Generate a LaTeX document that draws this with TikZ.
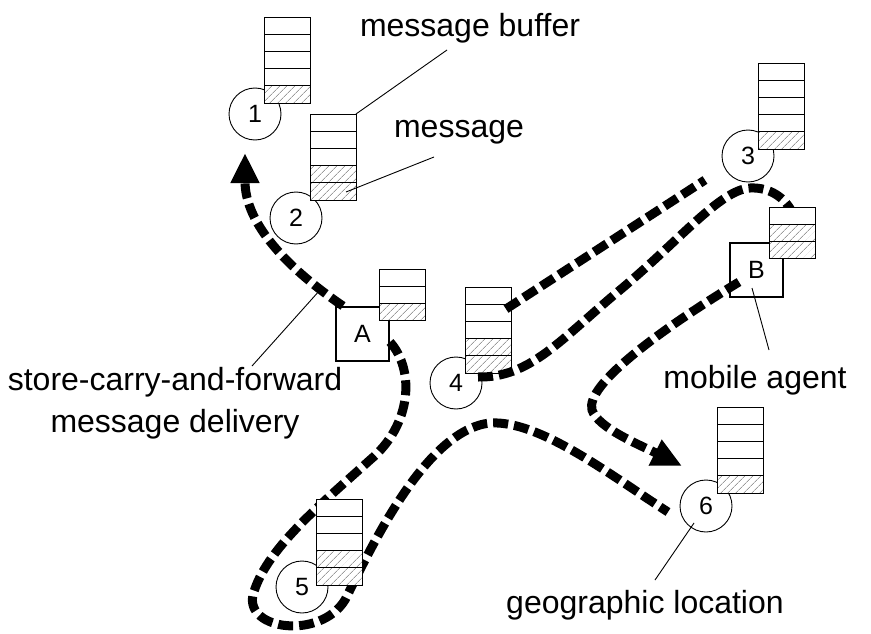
\documentclass[tikz,border=0pt]{standalone}
\usepackage{fontspec}
\setmainfont{Liberation Sans}
\usetikzlibrary{arrows.meta,patterns.meta}

% a message buffer: name, top left corner, cells, hatched cells
\newcommand{\msgbuffer}[4]{%
  \node[buf,minimum height=#3*17.2pt] (#1) at (#2) {};
  \foreach \k in {1,...,#4}
    \fill[hatch] ([yshift=\k*17.2pt-17.2pt]#1.south west) rectangle ([yshift=\k*17.2pt]#1.south east);
  \foreach \k in {2,...,#3}
    \draw[cell] ([yshift=\k*17.2pt-17.2pt]#1.south west) -- ([yshift=\k*17.2pt-17.2pt]#1.south east);
  \draw[cell] (#1.south west) rectangle (#1.north east);
}

\begin{document}
\begin{tikzpicture}[x=1pt,y=-1pt,
    route/.style={line width=9pt,dash pattern=on 15pt off 6pt},
    tip/.style={-{Triangle[length=30pt,width=27pt]}},
    station/.style={circle,draw,fill=white,line width=0.9pt,minimum size=52pt,inner sep=0pt,font=\fontsize{25}{30}\selectfont},
    agent/.style={draw,fill=white,line width=2pt,minimum width=53pt,minimum height=54pt,inner sep=0pt,font=\fontsize{25}{30}\selectfont},
    buf/.style={draw,fill=white,line width=0.9pt,minimum width=46pt,inner sep=0pt,outer sep=0pt,anchor=north west},
    cell/.style={line width=0.9pt},
    hatch/.style={pattern={Lines[angle=45,distance=5.4pt,line width=0.6pt]},pattern color=black!60},
    leader/.style={line width=0.9pt},
    lbl/.style={font=\fontsize{32}{42}\selectfont,anchor=base,inner sep=0pt}]
    \useasboundingbox (0,0) rectangle (871,634);

    % agents
    \node[agent] (boxA) at (362.5,334) {A};
    \node[agent] (boxB) at (756.5,270) {B};

    % free ends
    \coordinate (k1) at (245,153);
    \coordinate (k3a) at (705,180);
    \coordinate (k4) at (682,466);
    \coordinate (k6) at (668,512);

    % routes of the agents
    \draw[route,tip] ([xshift=8pt]boxA.north west) .. controls (290,270) and (245,225) .. (k1);
    \draw[route] ([yshift=-8pt]boxA.east) .. controls (415,370) and (412,425) .. (370,460)
        .. controls (320,505) and (265,550) .. (253,595)
        .. controls (245,630) and (320,640) .. (345,600)
        .. controls (370,550) and (425,430) .. (490,423)
        .. controls (540,420) and (610,475) .. (k6);
    \draw[route,tip] ([xshift=10pt,yshift=-12pt]boxB.west) .. controls (660,330) and (585,385) .. (592,410)
        .. controls (598,428) and (640,445) .. (k4);

    % locations
    \node[station] (s1) at (255,114) {1};
    \node[station] (s2) at (296,218) {2};
    \node[station] (s3) at (748,156) {3};
    \node[station] (s4) at (456,383) {4};
    \node[station] (s5) at (302,587) {5};
    \node[station] (s6) at (706,506) {6};

    \msgbuffer{buf1}{264,17}{5}{1}
    \msgbuffer{buf2}{310,114}{5}{2}
    \msgbuffer{buf3}{758,63}{5}{1}
    \msgbuffer{buf4}{465,287}{5}{2}
    \msgbuffer{buf5}{316,499}{5}{2}
    \msgbuffer{buf6}{717,407}{5}{1}

    % routes round location 3
    \draw[route] ([xshift=-5pt,yshift=-22pt]buf4.north east) -- (k3a);
    \draw[route] ([xshift=-10pt,yshift=-4pt]buf4.south) .. controls (530,378) and (560,340) .. (620,290)
        .. controls (680,240) and (720,190) .. (750,188)
        .. controls (770,187) and (785,198) .. (792,212);

    \msgbuffer{bufA}{379,269}{3}{1}
    \msgbuffer{bufB}{769,207}{3}{2}

    % labels
    \node[lbl] (tbuf) at (470,37) {message buffer};
    \node[lbl] (tmsg) at (459,138) {message};
    \node[lbl,align=center] (tscf) at (175,432) {store-carry-and-forward\\message delivery};
    \node[lbl] (tagent) at (755,388) {mobile agent};
    \node[lbl] (tgeo) at (645,613) {geographic location};

    \coordinate (kbuf) at (447,50);
    \coordinate (kmsg) at (434,157);
    \coordinate (kscf0) at (320,290);
    \coordinate (kscf) at (252,366);
    \coordinate (kagent) at (769,350);
    \coordinate (kgeo) at (655,580);

    \draw[leader] (buf2.north east) -- (kbuf);
    \draw[leader] ([xshift=-10pt,yshift=8pt]buf2.south east) -- (kmsg);
    \draw[leader] (kscf0) -- (kscf);
    \draw[leader] ([xshift=-4.5pt,yshift=-18pt]boxB.center) -- (kagent);
    \draw[leader] ([xshift=-12pt,yshift=-17pt]s6.center) -- (kgeo);
\end{tikzpicture}
\end{document}
